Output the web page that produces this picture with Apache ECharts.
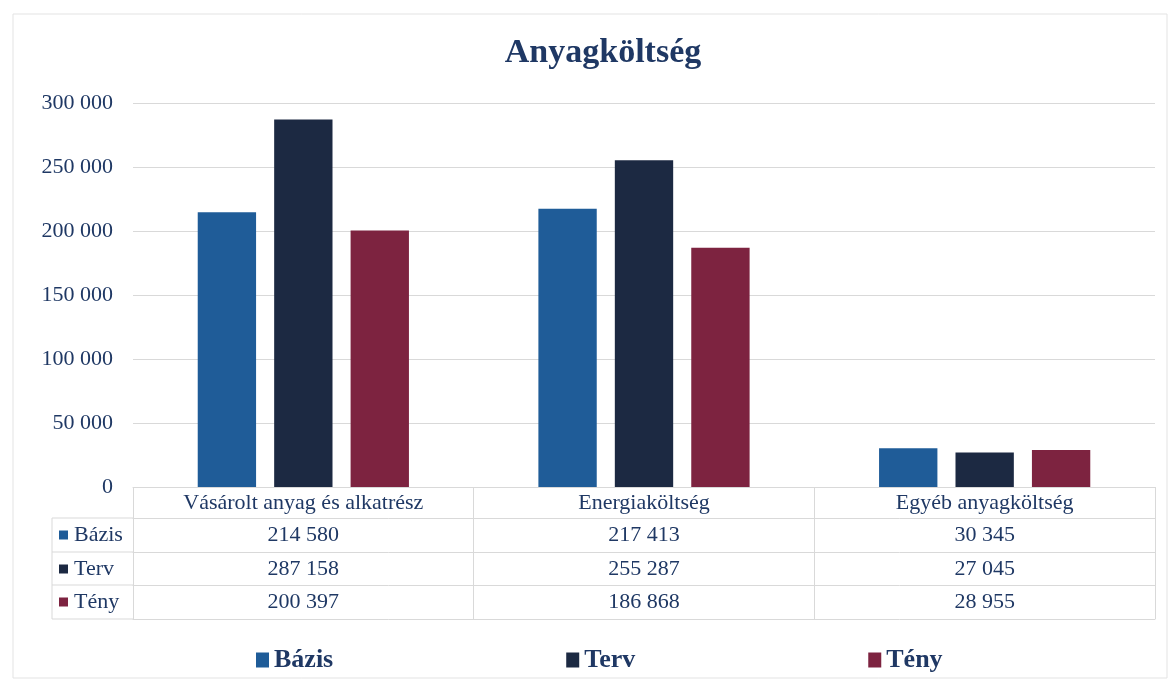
<!DOCTYPE html>
<html>
<head>
<meta charset="utf-8">
<script src="https://cdn.jsdelivr.net/npm/echarts@6/dist/echarts.min.js"></script>
<style>
  html, body { margin: 0; padding: 0; background: #fff; }
  #chartmain { width: 1172px; height: 684px; }
</style>
</head>
<body>
<div id="chartmain"></div>
<script>
// data
var categories = ['Vásárolt anyag és alkatrész', 'Energiaköltség', 'Egyéb anyagköltség'];
var seriesNames = ['Bázis', 'Terv', 'Tény'];
var bazis = [214580, 217413, 30345];
var terv = [287158, 255287, 27045];
var teny = [200397, 186868, 28955];
var yTicks = [0, 50000, 100000, 150000, 200000, 250000, 300000];

var colors = ['#1f5c98', '#1c2942', '#7d2340'];
var textColor = '#1f3864';
var lineColor = '#d9d9d9';
var font = "'Liberation Serif', 'Times New Roman', serif";

function fmt(v) {
    return String(v).replace(/\B(?=(\d{3})+(?!\d))/g, ' ');
}

var seriesValues = [bazis, terv, teny];

// table rows below the plot (offsets from the axis line)
var rowOffsets = [31, 65, 98];
var tableBottom = 132;

var xAxes = [{
    type: 'category',
    data: categories,
    axisLine: { show: true, lineStyle: { color: lineColor, width: 1 } },
    axisTick: { show: true, interval: 0, length: tableBottom, lineStyle: { color: lineColor } },
    axisLabel: { interval: 0, margin: 5, color: textColor, fontFamily: font, fontSize: 22 }
}];
seriesValues.forEach(function (vals, i) {
    xAxes.push({
        type: 'category',
        position: 'bottom',
        offset: rowOffsets[i],
        data: vals.map(fmt),
        axisLine: { show: true, lineStyle: { color: lineColor, width: 1 } },
        axisTick: { show: false },
        axisLabel: { interval: 0, margin: 6, color: textColor, fontFamily: font, fontSize: 22 },
        name: '{m' + i + '|}{t|' + seriesNames[i] + '}',
        nameLocation: 'start',
        nameGap: 74,
        nameTextStyle: {
            align: 'left', verticalAlign: 'top', padding: [6, 0, 0, 0],
            rich: {
                m0: { width: 9, height: 9, backgroundColor: colors[0] },
                m1: { width: 9, height: 9, backgroundColor: colors[1] },
                m2: { width: 9, height: 9, backgroundColor: colors[2] },
                t: { color: textColor, fontFamily: font, fontSize: 22, padding: [0, 0, 0, 6] }
            }
        }
    });
});
xAxes.push({
    type: 'category',
    position: 'bottom',
    offset: tableBottom,
    data: categories,
    axisLine: { show: true, lineStyle: { color: lineColor, width: 1 } },
    axisTick: { show: false },
    axisLabel: { show: false }
});

var option = {
    backgroundColor: '#ffffff',
    title: {
        text: 'Anyagköltség',
        left: 598,
        textAlign: 'center',
        top: 31,
        textStyle: { color: textColor, fontFamily: font, fontSize: 34, fontWeight: 'bold' }
    },
    legend: {
        data: seriesNames,
        left: 251,
        top: 642,
        icon: 'rect',
        itemWidth: 13,
        itemHeight: 15,
        itemGap: 233,
        textStyle: { color: textColor, fontFamily: font, fontSize: 26, fontWeight: 'bold' }
    },
    grid: { left: 133, right: 17, top: 103, bottom: 197, containLabel: false },
    xAxis: xAxes,
    yAxis: {
        type: 'value',
        min: yTicks[0],
        max: yTicks[yTicks.length - 1],
        interval: 50000,
        axisLine: { show: false },
        axisTick: { show: false },
        splitLine: { lineStyle: { color: lineColor, width: 1 } },
        axisLabel: {
            margin: 20,
            color: textColor,
            fontFamily: font,
            fontSize: 22,
            formatter: function (v) { return fmt(v); }
        }
    },
    series: seriesValues.map(function (vals, i) {
        return {
            name: seriesNames[i],
            type: 'bar',
            data: vals,
            barGap: '31%',
            barCategoryGap: '38%',
            itemStyle: { color: colors[i] }
        };
    }),
    graphic: [
        { type: 'rect', shape: { x: 13, y: 14, width: 1154, height: 664 },
          style: { fill: 'none', stroke: '#e3e3e3', lineWidth: 1 } },
        { type: 'polyline', shape: { points: [[133, 518], [52, 518], [52, 619], [133, 619]] },
          style: { fill: 'none', stroke: lineColor, lineWidth: 1 } },
        { type: 'line', shape: { x1: 52, y1: 552, x2: 133, y2: 552 }, style: { stroke: lineColor, lineWidth: 1 } },
        { type: 'line', shape: { x1: 52, y1: 585, x2: 133, y2: 585 }, style: { stroke: lineColor, lineWidth: 1 } }
    ]
};

window.onload = function () {
    var chart = echarts.init(document.getElementById('chartmain'));
    chart.setOption(option);
};
</script>
</body>
</html>
